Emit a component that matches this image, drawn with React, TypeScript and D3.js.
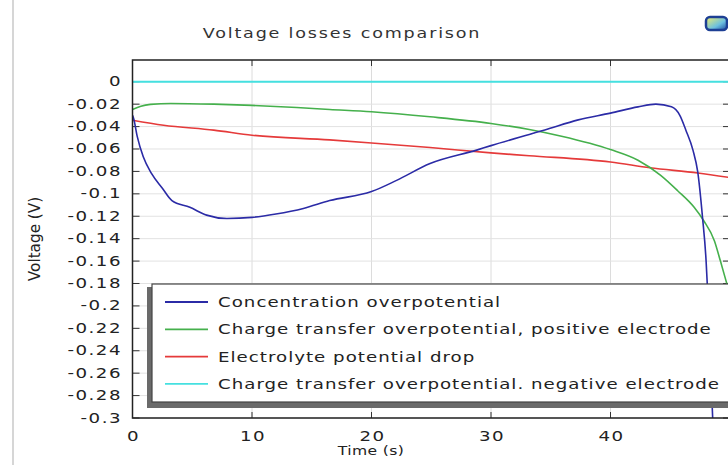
import React from "react";
import * as d3 from "d3";

// time (s) / voltage (V)
const concTime = [0, 0.1, 0.4, 0.9, 1.6, 2.5, 3.3, 4.8, 6.2, 7.9, 10, 12, 14.3, 16.5, 20, 22.1, 24.9, 28.8, 30, 33.2, 34.5, 37.3, 40, 42.3, 43.8, 45.1, 45.8, 46.3, 46.9, 47.3, 47.7, 48.0, 48.1, 48.55];
const concVolt = [-0.03, -0.033, -0.049, -0.067, -0.082, -0.095, -0.106, -0.112, -0.119, -0.122, -0.121, -0.118, -0.113, -0.106, -0.098, -0.088, -0.073, -0.061, -0.057, -0.047, -0.043, -0.034, -0.028, -0.0224, -0.02, -0.0224, -0.03, -0.043, -0.061, -0.0805, -0.121, -0.16, -0.181, -0.3];

const posTime = [0, 0.7, 1.5, 3.2, 6.8, 10, 13.75, 16.5, 20, 24.9, 30, 33.2, 35.9, 40, 42.3, 44.2, 45.6, 47, 47.8, 48.7, 49.2, 49.65, 50];
const posVolt = [-0.0247, -0.0218, -0.0202, -0.0194, -0.02, -0.0211, -0.023, -0.0247, -0.0268, -0.0313, -0.0372, -0.0426, -0.0486, -0.0605, -0.07, -0.0835, -0.097, -0.112, -0.124, -0.142, -0.16, -0.177, -0.19];

const elecTime = [0, 2.6, 6.8, 10, 16.5, 20, 24.9, 30, 33.2, 40, 43.3, 47.3, 50];
const elecVolt = [-0.0343, -0.0388, -0.0432, -0.0477, -0.0519, -0.0546, -0.0587, -0.0635, -0.066, -0.0716, -0.0767, -0.0814, -0.0855];

const negTime = [0, 50];
const negVolt = [0, 0];

const xTicks = [0, 10, 20, 30, 40];
const yTicks = [0, -0.02, -0.04, -0.06, -0.08, -0.1, -0.12, -0.14, -0.16, -0.18, -0.2, -0.22, -0.24, -0.26, -0.28, -0.3];

const seriesNames = [
  "Concentration overpotential",
  "Charge transfer overpotential, positive electrode",
  "Electrolyte potential drop",
  "Charge transfer overpotential. negative electrode",
];
const seriesColors = ["#2b2ba6", "#45b04c", "#e53a3a", "#45e0e0"];

const W = 728;
const H = 465;
const plot = { left: 132.5, right: 730, top: 60, bottom: 418 };
const FONT = "'DejaVu Sans', Verdana, sans-serif";

// stretched text, like the reference
const Stretch = ({ x, y, anchor = "start", size = 13, sx = 1.25, ls = 0, fill = "#222", children }: any) => (
  <text
    transform={`translate(${x},${y}) scale(${sx},1)`}
    textAnchor={anchor}
    fontFamily={FONT}
    fontSize={size}
    letterSpacing={ls}
    fill={fill}
  >
    {children}
  </text>
);

export default function App() {
  const x = d3.scaleLinear().domain([0, 50]).range([plot.left, plot.right]);
  const y = d3.scaleLinear().domain([-0.3, 0.0194]).range([plot.bottom, plot.top]);

  const line = d3
    .line<[number, number]>()
    .x((d) => x(d[0]))
    .y((d) => y(d[1]))
    .curve(d3.curveMonotoneX);

  const series = [
    { t: concTime, v: concVolt },
    { t: posTime, v: posVolt },
    { t: elecTime, v: elecVolt },
    { t: negTime, v: negVolt },
  ];

  const legend = { x: 152, y: 284, w: 600, h: 118, row0: 302, rowGap: 27.3 };

  return (
    <svg width={W} height={H} style={{ position: "absolute", left: 0, top: 0, background: "#fff" }}>
      <defs>
        <clipPath id="plotClip">
          <rect x={plot.left} y={plot.top} width={plot.right - plot.left} height={plot.bottom - plot.top} />
        </clipPath>
        <linearGradient id="iconGrad" x1="0" y1="0" x2="1" y2="1">
          <stop offset="0" stopColor="#f4f06a" />
          <stop offset="0.6" stopColor="#6cc0e0" />
          <stop offset="1" stopColor="#1c4aa0" />
        </linearGradient>
      </defs>

      {/* panel edge */}
      <line x1={13} x2={13} y1={0} y2={H} stroke="#d6d6d6" strokeWidth={2} />

      {/* icon */}
      <rect x={706} y={17} width={21} height={13} rx={4} fill="url(#iconGrad)" stroke="#1d3f94" strokeWidth={2.5} />

      <Stretch x={342} y={38} anchor="middle" size={13.5} sx={1.3} ls={1.4} fill="#333">
        Voltage losses comparison
      </Stretch>

      {/* grid */}
      {xTicks.slice(1).map((t) => (
        <line key={"gx" + t} x1={x(t)} x2={x(t)} y1={plot.top} y2={plot.bottom} stroke="#dcdcdc" />
      ))}
      {yTicks.map((v) => (
        <line key={"gy" + v} x1={plot.left} x2={plot.right} y1={y(v)} y2={y(v)} stroke="#e2e2e2" />
      ))}

      {/* ticks */}
      {xTicks.slice(1).map((t) => (
        <g key={"tx" + t}>
          <line x1={x(t)} x2={x(t)} y1={plot.top} y2={plot.top + 6} stroke="#333" />
          <line x1={x(t)} x2={x(t)} y1={plot.bottom} y2={plot.bottom - 6} stroke="#333" />
        </g>
      ))}
      {yTicks.map((v) => (
        <g key={"ty" + v}>
          <line x1={plot.left} x2={plot.left + 7} y1={y(v)} y2={y(v)} stroke="#333" />
          <line x1={plot.right - 7} x2={plot.right} y1={y(v)} y2={y(v)} stroke="#333" />
        </g>
      ))}

      {/* curves */}
      <g clipPath="url(#plotClip)">
        {series
          .map((s, i) => ({ s, i }))
          .reverse()
          .map(({ s, i }) => (
            <path
              key={i}
              d={line(s.t.map((t, k) => [t, s.v[k]] as [number, number])) || ""}
              fill="none"
              stroke={seriesColors[i]}
              strokeWidth={i === 3 ? 2.2 : 1.6}
            />
          ))}
      </g>

      {/* frame */}
      <rect
        x={plot.left}
        y={plot.top}
        width={plot.right - plot.left}
        height={plot.bottom - plot.top}
        fill="none"
        stroke="#222"
        strokeWidth={1.5}
      />

      {/* tick labels */}
      {yTicks.map((v) => (
        <Stretch key={"ly" + v} x={122} y={y(v) + 4.5} anchor="end" size={13.5} sx={1.35} ls={1.1}>
          {String(+v.toFixed(2))}
        </Stretch>
      ))}
      {xTicks.map((t) => (
        <Stretch key={"lx" + t} x={x(t) + 1} y={441} anchor="middle" size={13.5} sx={1.35} ls={1.1}>
          {String(t)}
        </Stretch>
      ))}
      <Stretch x={371} y={455} anchor="middle" size={12.5} sx={1.25} ls={0.3}>
        Time (s)
      </Stretch>
      <text
        transform="translate(40,239) rotate(-90) scale(1.22,1.2)"
        textAnchor="middle"
        fontFamily={FONT}
        fontSize={12.5}
        fill="#222"
      >
        Voltage (V)
      </text>

      {/* legend */}
      <rect x={legend.x - 5} y={legend.y + 3} width={legend.w} height={legend.h + 3} fill="#6a6a6a" />
      <rect x={legend.x} y={legend.y} width={legend.w} height={legend.h} fill="#fff" stroke="#444" strokeWidth={1.2} />
      {seriesNames.map((name, i) => {
        const ry = legend.row0 + i * legend.rowGap;
        return (
          <g key={name}>
            <line x1={165} x2={208} y1={ry} y2={ry} stroke={seriesColors[i]} strokeWidth={1.8} />
            <Stretch x={218} y={ry + 5} size={14} sx={1.3} ls={0.78}>
              {name}
            </Stretch>
          </g>
        );
      })}
    </svg>
  );
}
